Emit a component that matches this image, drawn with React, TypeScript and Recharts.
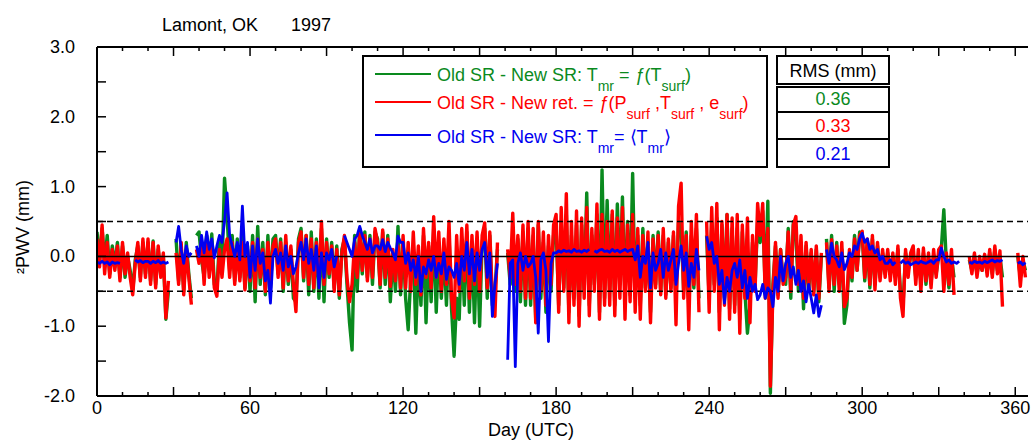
import React from 'react';
import { LineChart, Line, XAxis, YAxis, ReferenceLine } from 'recharts';

const FONT = '"Liberation Sans", Arial, sans-serif';

// Day of year (UTC), 0..365
const days: number[] = Array.from({ length: 366 }, (_, i) => i);

// Old SR - New SR: Tmr = f(Tsurf)
const greenVals: (number | null)[] = [
  0.35, -0.05, 0.4, -0.1, 0.3, -0.25, 0.15, -0.15, 0.2, -0.3,
  0.15, -0.3, 0.0, -0.2, -0.5, -0.05, 0.15, -0.3, 0.2, -0.25,
  0.2, -0.35, 0.22, -0.4, 0.1, -0.25, 0.0, -0.9, -0.5, null,
  null, 0.25, -0.35, 0.15, -0.5, 0.2, -0.25, -0.6, null, 0.3,
  0.35, -0.05, -0.3, 0.3, -0.2, 0.32, -0.4, -0.5, 0.25, -0.2,
  1.12, 0.6, -0.2, 0.3, -0.35, 0.25, -0.3, 0.3, -0.45, 0.15,
  -0.5, 0.3, -0.65, 0.43, -0.4, 0.2, -0.55, 0.3, -0.45, 0.25,
  0.3, -0.25, 0.25, -0.5, 0.2, -0.4, 0.1, -0.6, -0.65, 0.25,
  0.4, -0.35, 0.3, -0.55, 0.35, -0.5, 0.25, -0.6, 0.4, -0.65,
  0.25, -0.3, 0.2, -0.45, 0.15, -0.6, 0.1, 0.25, -0.4, -0.95,
  -1.34, 0.3, -0.5, 0.4, -0.25, 0.35, -0.3, 0.3, -0.4, 0.35,
  0.25, -0.45, 0.35, -0.4, 0.3, -0.65, 0.05, -0.5, 0.43, -0.55,
  0.2, -0.6, -1.05, -0.3, 0.1, -1.1, 0.0, -0.7, 0.3, -0.95,
  0.15, -0.65, 0.4, -0.8, 0.2, -0.6, 0.1, -0.7, 0.3, -0.75,
  -1.43, -0.6, -0.9, 0.2, -0.7, 0.35, -0.8, 0.2, -0.95, 0.25,
  -1.0, 0.2, 0.4, -0.6, 0.3, -0.7, -0.5, 0.1, null, null,
  null, 0.05, -0.4, 0.3, -0.5, 0.25, -0.65, 0.35, -0.7, 0.4,
  -0.7, 0.3, -0.9, 0.45, -0.6, 0.2, -0.8, 0.15, -0.5, 0.3,
  0.4, -0.7, 0.5, -0.45, 0.6, -0.8, 0.3, -0.6, 0.45, -0.85,
  0.45, -0.5, 0.91, -0.7, 0.3, -0.4, 0.6, -0.8, 1.24, -0.6,
  0.8, -0.5, 0.6, -0.7, 0.75, -0.4, 0.85, -0.6, 0.5, -0.55,
  1.19, -0.6, 0.3, -0.7, 0.4, -0.45, 0.2, -0.8, 0.3, -0.4,
  0.35, -0.5, 0.3, -0.55, 0.2, -0.45, 0.3, -0.6, 0.5, 0.4,
  -0.5, 0.35, -0.7, 0.3, -0.45, 0.4, -0.6, null, null, 0.3,
  -0.6, 0.5, -0.4, 0.55, -0.8, 0.45, -0.6, 0.6, -0.75, 0.4,
  -0.7, 0.4, -0.9, 0.35, -0.5, -1.1, -0.7, 0.2, -0.4, 0.5,
  0.2, 0.65, -0.5, 0.79, -1.96, -0.4, 0.15, -0.55, 0.1, -0.35,
  -0.4, 0.4, -0.6, 0.5, 0.3, -0.5, 0.2, -0.75, 0.15, -0.5,
  0.05, -0.5, 0.1, -0.65, 0.0, null, 0.25, -0.45, 0.3, -0.5,
  0.2, -0.4, 0.1, -0.96, -0.7, 0.05, -0.35, 0.3, -0.2, 0.35,
  0.3, -0.35, 0.2, -0.45, 0.25, -0.4, 0.15, -0.3, 0.05, -0.25,
  0.05, -0.25, 0.0, -0.3, 0.1, -0.5, -0.7, 0.05, -0.2, 0.0,
  0.05, -0.3, 0.0, -0.35, 0.05, -0.4, 0.0, -0.38, 0.02, -0.25,
  0.0, 0.1, 0.67, -0.1, -0.45, 0.0, -0.3, null, null, null,
  null, null, -0.05, -0.2, 0.0, -0.25, -0.05, -0.2, 0.0, -0.22,
  0.05, -0.25, 0.1, -0.2, 0.0, -0.3, null, null, null, null,
  null, 0.0, -0.3, -0.05, -0.2, null,
];

// Old SR - New ret. = f(Psurf, Tsurf, esurf)
const redVals: (number | null)[] = [
  0.25, -0.15, 0.45, -0.25, 0.2, -0.3, 0.1, -0.2, 0.15, -0.35,
  0.2, -0.25, 0.05, -0.3, -0.55, -0.1, 0.2, -0.35, 0.25, -0.3,
  0.25, -0.4, 0.2, -0.45, 0.15, -0.3, 0.05, -0.88, -0.35, null,
  null, 0.05, -0.4, 0.2, -0.55, 0.1, -0.3, -0.69, null, 0.1,
  -0.1, 0.2, -0.4, 0.25, -0.3, 0.15, -0.45, -0.57, 0.1, -0.3,
  0.1, 0.25, -0.3, 0.2, -0.4, 0.15, -0.35, 0.2, -0.48, 0.1,
  -0.35, 0.2, -0.45, 0.25, -0.3, 0.1, -0.5, 0.2, -0.4, 0.15,
  0.25, -0.3, 0.2, -0.45, 0.3, -0.35, 0.15, -0.4, -0.79, 0.2,
  0.35, -0.3, 0.3, -0.4, 0.25, -0.45, 0.2, -0.35, 0.5, -0.4,
  0.2, -0.25, 0.15, -0.5, 0.1, -0.55, 0.05, 0.3, -0.3, -0.65,
  -0.4, 0.2, -0.3, 0.35, -0.2, 0.3, -0.35, 0.25, -0.3, 0.4,
  0.2, -0.4, 0.38, -0.3, 0.25, -0.43, 0.1, -0.35, 0.15, -0.45,
  0.3, -0.45, 0.2, -0.5, 0.35, -0.4, 0.15, -0.55, 0.4, -0.3,
  0.2, -0.45, 0.57, -0.3, 0.35, -0.5, 0.25, -0.4, 0.5, -0.6,
  -0.88, 0.3, -0.5, 0.4, -0.35, 0.45, -0.6, 0.3, -0.4, 0.35,
  -0.5, 0.3, 0.48, -0.45, 0.35, -0.6, -0.86, 0.2, null, null,
  null, 0.1, -0.3, 0.62, -0.4, 0.3, -0.5, 0.45, -0.6, 0.5,
  -0.6, 0.4, -0.95, 0.5, -0.5, 0.35, -0.7, 0.3, -0.4, 0.45,
  0.6, -0.8, 0.7, -0.5, 0.9, -0.95, 0.5, -0.7, 0.65, -1.0,
  0.55, -0.6, 0.7, -0.85, 0.4, -0.5, 0.75, -0.9, 0.6, -0.7,
  0.5, -0.7, 0.65, -0.85, 0.55, -0.6, 0.7, -0.9, 0.45, -0.65,
  0.6, -0.8, 0.4, -0.9, 0.3, -0.5, 0.35, -0.95, 0.25, -0.45,
  0.3, -0.55, 0.4, -0.6, 0.25, -0.5, 0.35, -0.98, 0.72, 1.05,
  -0.6, 0.3, -1.05, 0.5, -0.4, 0.6, -0.8, null, null, 0.5,
  -0.8, 0.7, -0.5, 0.76, -1.05, 0.5, -0.7, 0.6, -0.9, 0.55,
  -0.8, 0.6, -1.1, 0.45, -0.6, 0.55, -0.95, 0.3, -0.5, 0.76,
  0.3, 0.76, -0.6, 0.4, -1.86, -0.5, 0.2, -0.6, 0.1, -0.4,
  -0.3, 0.35, -0.5, 0.45, 0.57, -0.4, 0.3, -0.6, 0.2, -0.45,
  0.1, -0.55, 0.15, -0.6, 0.05, null, 0.2, -0.5, 0.24, -0.4,
  0.15, -0.5, 0.2, -0.72, -0.6, 0.1, -0.3, 0.25, -0.2, 0.3,
  0.36, -0.3, 0.25, -0.4, 0.3, -0.48, 0.2, -0.35, 0.1, -0.3,
  0.1, -0.35, 0.05, -0.4, 0.15, -0.6, -0.86, 0.1, -0.3, 0.05,
  0.15, -0.4, 0.1, -0.5, 0.12, -0.35, 0.05, -0.45, 0.1, -0.3,
  0.1, 0.15, -0.5, 0.05, -0.4, 0.1, -0.55, null, null, null,
  null, null, 0.0, -0.25, 0.05, -0.3, 0.0, -0.2, 0.03, -0.28,
  0.1, -0.3, 0.15, -0.25, 0.08, -0.72, null, null, null, null,
  null, 0.05, -0.43, 0.0, -0.3, null,
];

// Old SR - New SR: Tmr = <Tmr>
const blueVals: (number | null)[] = [
  -0.08, -0.1, -0.07, -0.1, -0.08, -0.12, -0.08, -0.1, -0.09, -0.1,
  null, null, null, null, null, -0.05, -0.08, -0.06, -0.09, -0.07,
  -0.07, -0.1, -0.07, -0.09, -0.06, -0.1, -0.08, -0.1, -0.08, null,
  null, 0.2, 0.43, 0.1, -0.1, 0.15, 0.0, 0.05, null, 0.15,
  0.0, 0.3, 0.05, 0.35, 0.1, 0.25, -0.02, 0.15, 0.3, 0.2,
  0.5, 0.91, 0.3, 0.15, 0.0, 0.2, -0.05, 0.72, 0.0, 0.2,
  -0.3, 0.15, -0.2, 0.25, -0.1, 0.05, -0.35, -0.2, -0.67, 0.0,
  0.1, -0.1, 0.05, -0.2, 0.15, -0.15, 0.0, -0.25, -0.15, 0.05,
  0.2, -0.05, 0.25, -0.1, 0.1, -0.2, 0.15, -0.45, 0.05, -0.3,
  0.05, -0.05, 0.1, -0.15, 0.0, null, null, 0.3, 0.2, 0.1,
  0.0, 0.25, 0.3, 0.43, 0.3, 0.2, 0.1, 0.25, 0.05, 0.15,
  0.15, 0.1, 0.24, 0.07, 0.2, 0.12, 0.05, -0.05, 0.29, 0.2,
  0.2, -0.1, 0.05, -0.2, -0.05, -0.3, 0.0, -0.5, -0.15, -0.25,
  -0.05, -0.2, 0.0, -0.3, -0.1, -0.25, 0.05, -0.33, -0.15, -0.2,
  -0.3, -0.1, -0.4, 0.0, -0.2, 0.2, -0.25, 0.1, -0.35, 0.05,
  -0.2, 0.1, 0.2, -0.3, 0.05, -0.86, -0.4, -0.1, null, null,
  null, -1.48, -0.1, -0.05, -1.58, -0.1, 0.05, -0.2, 0.0, -0.15,
  -0.1, 0.0, -0.3, -1.1, -0.05, 0.05, -0.2, -1.22, -0.1, 0.05,
  0.05, 0.08, 0.06, 0.09, 0.07, 0.08, 0.06, 0.1, 0.07, 0.08,
  0.06, 0.09, 0.07, 0.1, null, 0.08, 0.06, 0.09, 0.1, 0.07,
  0.08, 0.06, 0.1, 0.07, 0.09, 0.06, 0.08, 0.1, 0.07, 0.09,
  0.1, -0.05, 0.15, -0.3, 0.0, -0.1, 0.2, -0.45, 0.05, -0.2,
  -0.1, 0.1, -0.3, 0.05, -0.2, -0.05, 0.1, -0.4, -0.1, 0.15,
  -0.2, 0.05, -0.43, -0.1, -0.3, 0.1, -0.2, null, null, 0.29,
  0.1, 0.2, -0.1, 0.0, -0.4, -0.2, -0.67, -0.3, -0.5, -0.2,
  -0.1, -0.3, -0.05, -0.45, -0.2, -0.6, -0.3, -0.5, -0.4, -0.62,
  -0.55, -0.4, -0.6, -0.45, -0.5, -0.72, -0.3, -0.5, 0.0, -0.35,
  -0.1, 0.0, -0.3, -0.15, -0.4, -0.2, -0.5, -0.35, -0.65, -0.4,
  -0.6, -0.81, -0.55, -0.86, -0.7, null, 0.1, -0.1, 0.19, 0.0,
  -0.05, -0.15, 0.05, -0.19, -0.1, 0.05, 0.0, 0.15, 0.1, 0.25,
  0.33, 0.2, 0.25, 0.1, 0.15, 0.05, 0.1, -0.05, 0.0, -0.1,
  -0.1, -0.05, -0.12, -0.08, null, -0.1, -0.06, -0.1, -0.08, -0.12,
  -0.1, -0.08, -0.1, -0.07, -0.09, -0.1, -0.08, -0.06, -0.1, -0.05,
  -0.05, 0.12, 0.0, -0.08, -0.05, -0.1, -0.08, -0.1, -0.07, null,
  -0.1, null, -0.08, -0.1, -0.07, -0.09, -0.08, -0.1, -0.07, -0.09,
  -0.07, -0.05, -0.08, -0.06, -0.07, -0.05, null, null, null, null,
  null, -0.1, -0.08, -0.12, -0.09, null,
];

const xTicks: number[] = [0, 10, 20, 30, 40, 50, 60, 70, 80, 90, 100, 110, 120, 130, 140, 150, 160, 170, 180, 190, 200, 210, 220, 230, 240, 250, 260, 270, 280, 290, 300, 310, 320, 330, 340, 350, 360];
const xLabelTicks: number[] = [0, 60, 120, 180, 240, 300, 360];
const yTicks: number[] = [-2, -1.5, -1, -0.5, 0, 0.5, 1, 1.5, 2, 2.5, 3];
const yLabelTicks: number[] = [-2, -1, 0, 1, 2, 3];
const rmsLabels: string[] = ['0.36', '0.33', '0.21'];

const GREEN = '#0a8a1e';
const RED = '#ff0000';
const BLUE = '#0000f0';

const data = days.map((d, i) => ({ day: d, green: greenVals[i], red: redVals[i], blue: blueVals[i] }));

const BottomTick = (props: any) => {
  const { x, y, payload } = props;
  const v = payload.value;
  const len = v % 30 === 0 ? 9 : 4;
  return (
    <g>
      <line x1={x} x2={x} y1={y} y2={y - len} stroke="#000" strokeWidth={1.5} />
      {xLabelTicks.includes(v) && (
        <text x={x} y={y + 18} textAnchor="middle" fontSize={18} fontFamily={FONT} fill="#000">{v}</text>
      )}
    </g>
  );
};

const TopTick = (props: any) => {
  const { x, y, payload } = props;
  const v = payload.value;
  const len = v % 30 === 0 ? 9 : 4;
  return <line x1={x} x2={x} y1={y} y2={y + len} stroke="#000" strokeWidth={1.5} />;
};

const LeftTick = (props: any) => {
  const { x, y, payload } = props;
  const v = payload.value;
  return (
    <g>
      <line x1={x} x2={x + 9} y1={y} y2={y} stroke="#000" strokeWidth={1.5} />
      {yLabelTicks.includes(v) && (
        <text x={x - 22} y={y + 6} textAnchor="end" fontSize={18} fontFamily={FONT} fill="#000">{v.toFixed(1)}</text>
      )}
    </g>
  );
};

const RightTick = (props: any) => {
  const { x, y } = props;
  return <line x1={x} x2={x - 9} y1={y} y2={y} stroke="#000" strokeWidth={1.5} />;
};

export default function App() {
  return (
    <div style={{ position: 'absolute', left: 0, top: 0, width: 1033, height: 440, background: '#fff' }}>
      <LineChart width={1033} height={440} data={data} margin={{ top: 46, right: 5, bottom: 0, left: 0 }}>
        <XAxis xAxisId="bottom" dataKey="day" type="number" domain={[0, 365]} ticks={xTicks} orientation="bottom"
          height={44} tickSize={0} tickMargin={0} tickLine={false} axisLine={{ stroke: '#000', strokeWidth: 2 }}
          tick={<BottomTick />} interval={0} allowDataOverflow />
        <XAxis xAxisId="top" dataKey="day" type="number" domain={[0, 365]} ticks={xTicks} orientation="top"
          height={1} tickSize={0} tickMargin={0} tickLine={false} axisLine={{ stroke: '#000', strokeWidth: 2 }}
          tick={<TopTick />} interval={0} allowDataOverflow />
        <YAxis yAxisId="left" type="number" domain={[-2, 3]} ticks={yTicks} orientation="left" width={97}
          tickSize={0} tickMargin={0} tickLine={false} axisLine={{ stroke: '#000', strokeWidth: 2 }}
          tick={<LeftTick />} interval={0} allowDataOverflow />
        <YAxis yAxisId="right" type="number" domain={[-2, 3]} ticks={yTicks} orientation="right" width={0}
          tickSize={0} tickMargin={0} tickLine={false} axisLine={{ stroke: '#000', strokeWidth: 2 }}
          tick={<RightTick />} interval={0} allowDataOverflow />
        <Line xAxisId="bottom" yAxisId="left" dataKey="green" stroke={GREEN} strokeWidth={3.4} dot={false}
          isAnimationActive={false} connectNulls={false} strokeLinejoin="round" />
        <Line xAxisId="bottom" yAxisId="left" dataKey="red" stroke={RED} strokeWidth={3.4} dot={false}
          isAnimationActive={false} connectNulls={false} strokeLinejoin="round" />
        <ReferenceLine xAxisId="bottom" yAxisId="left" y={0.5} stroke="#000" strokeWidth={1.5} strokeDasharray="6 4" />
        <ReferenceLine xAxisId="bottom" yAxisId="left" y={-0.5} stroke="#000" strokeWidth={1.5} strokeDasharray="6 4" />
        <ReferenceLine xAxisId="bottom" yAxisId="left" y={0} stroke="#000" strokeWidth={1.5} />
        <Line xAxisId="bottom" yAxisId="left" dataKey="blue" stroke={BLUE} strokeWidth={2.8} dot={false}
          isAnimationActive={false} connectNulls={false} strokeLinejoin="round" />
      </LineChart>
      <svg width={1033} height={440} style={{ position: 'absolute', left: 0, top: 0, pointerEvents: 'none' }} fontFamily={FONT}>
        <text x={162} y={31} fontSize={18} fill="#000">Lamont, OK</text>
        <text x={291} y={31} fontSize={18} fill="#000">1997</text>
        <text x={488} y={436} fontSize={18} fill="#000">Day (UTC)</text>
        <text x={29} y={227} fontSize={18} fill="#000" textAnchor="middle" transform="rotate(-90, 29, 227)">²PWV (mm)</text>

        <rect x={363} y={56} width={404} height={111} fill="#fff" stroke="#000" strokeWidth={2} />
        <line x1={375} x2={431} y1={74} y2={74} stroke={GREEN} strokeWidth={2} />
        <line x1={375} x2={431} y1={102} y2={102} stroke={RED} strokeWidth={2} />
        <line x1={375} x2={431} y1={135} y2={135} stroke={BLUE} strokeWidth={2} />

        <text x={437} y={81} fontSize={18} fill={GREEN}>
          Old SR - New SR: T
          <tspan dy={10} fontSize={14}>mr</tspan>
          <tspan dy={-10}> = </tspan>
          <tspan fontStyle="italic">ƒ</tspan>
          <tspan>(T</tspan>
          <tspan dy={10} fontSize={14}>surf</tspan>
          <tspan dy={-10}>)</tspan>
        </text>
        <text x={437} y={109} fontSize={18} fill={RED}>
          Old SR - New ret. = <tspan fontStyle="italic">ƒ</tspan>
          <tspan>(P</tspan>
          <tspan dy={10} fontSize={14}>surf</tspan>
          <tspan dy={-10}> ,T</tspan>
          <tspan dy={10} fontSize={14}>surf</tspan>
          <tspan dy={-10}> , e</tspan>
          <tspan dy={10} fontSize={14}>surf</tspan>
          <tspan dy={-10}>)</tspan>
        </text>
        <text x={437} y={143} fontSize={18} fill={BLUE}>
          Old SR - New SR: T
          <tspan dy={10} fontSize={14}>mr</tspan>
          <tspan dy={-10}>= ⟨T</tspan>
          <tspan dy={10} fontSize={14}>mr</tspan>
          <tspan dy={-10}>⟩</tspan>
        </text>

        <rect x={777} y={56} width={112} height={28} fill="#fff" stroke="#000" strokeWidth={2} />
        <text x={833} y={77} fontSize={18} fill="#000" textAnchor="middle">RMS (mm)</text>
        <rect x={777} y={87} width={112} height={80} fill="#fff" stroke="#000" strokeWidth={2} />
        <line x1={777} x2={889} y1={112} y2={112} stroke="#000" strokeWidth={2} />
        <line x1={777} x2={889} y1={139} y2={139} stroke="#000" strokeWidth={2} />
        <text x={833} y={105} fontSize={18} fill={GREEN} textAnchor="middle">{rmsLabels[0]}</text>
        <text x={833} y={132} fontSize={18} fill={RED} textAnchor="middle">{rmsLabels[1]}</text>
        <text x={833} y={160} fontSize={18} fill={BLUE} textAnchor="middle">{rmsLabels[2]}</text>
      </svg>
    </div>
  );
}
